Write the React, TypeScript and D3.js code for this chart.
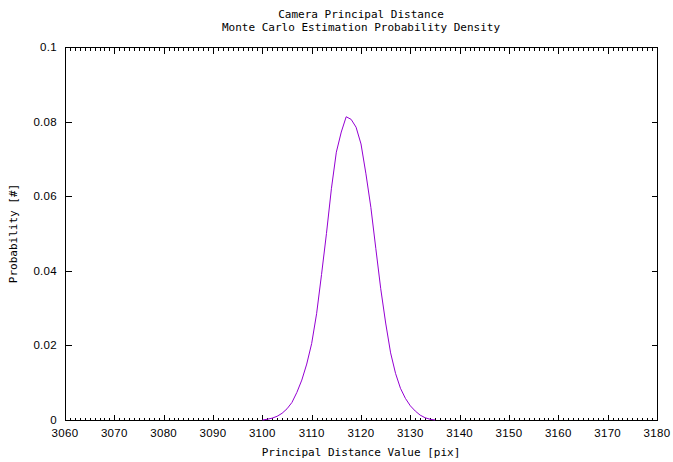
import * as d3 from 'd3'
import { useEffect } from 'react'

const W = 673, H = 462
const margin = { left: 65, right: 16, top: 47, bottom: 42 }

const titleLines = ['Camera Principal Distance', 'Monte Carlo Estimation Probability Density']
const xLabel = 'Principal Distance Value [pix]'
const yLabel = 'Probability [#]'

const xTicks = [3060, 3070, 3080, 3090, 3100, 3110, 3120, 3130, 3140, 3150, 3160, 3170, 3180]
const yTicks = [0, 0.02, 0.04, 0.06, 0.08, 0.1]

// density, one point per pixel unit
const distance = [
  3100, 3101, 3102, 3103, 3104, 3105, 3106, 3107, 3108, 3109, 3110, 3111,
  3112, 3113, 3114, 3115, 3116, 3117, 3118, 3119, 3120, 3121, 3122, 3123,
  3124, 3125, 3126, 3127, 3128, 3129, 3130, 3131, 3132, 3133, 3134, 3135,
]
const probability = [
  0, 0.0002, 0.0005, 0.001, 0.0018, 0.003, 0.0047, 0.0074, 0.0107, 0.015, 0.0205, 0.0285,
  0.039, 0.05, 0.062, 0.0718, 0.0772, 0.0813, 0.0806, 0.0785, 0.074, 0.066, 0.057, 0.046,
  0.0352, 0.026, 0.018, 0.0125, 0.0085, 0.0058, 0.0038, 0.0024, 0.0013, 0.0006, 0.0002, 0,
]

const mono = '"DejaVu Sans Mono", monospace'
const sans = '"Liberation Sans", Arial, sans-serif'

export default function App() {
  useEffect(() => {
    document.body.style.margin = '0'
  }, [])

  const x = d3.scaleLinear().domain([3060, 3180]).range([margin.left, W - margin.right])
  const y = d3.scaleLinear().domain([0, 0.1]).range([H - margin.bottom, margin.top])
  const [x0, x1] = x.range()
  const [y0, y1] = y.range()

  const minor = d3.range(3060, 3181, 1).filter(v => v % 10 !== 0)
  const line = d3.line<number>()
    .x((_, i) => x(distance[i]))
    .y(d => y(d))
  const px = (v: number) => Math.round(v) + 0.5

  return (
    <svg width={W} height={H} style={{ display: 'block', background: '#fff' }}>
      <g fontFamily={mono} fontSize={11} textAnchor="middle" fill="#000">
        {titleLines.map((t, i) => (
          <text key={t} x={(x0 + x1) / 2} y={18 + i * 12.5}>{t}</text>
        ))}
        <text x={(x0 + x1) / 2} y={456}>{xLabel}</text>
        <text transform={`translate(17,${(y0 + y1) / 2}) rotate(-90)`}>{yLabel}</text>
      </g>

      <g stroke="#000" strokeWidth={1} shapeRendering="crispEdges">
        {minor.map(v => (
          <g key={v}>
            <line x1={px(x(v))} x2={px(x(v))} y1={px(y0)} y2={px(y0) - 3} />
            <line x1={px(x(v))} x2={px(x(v))} y1={px(y1)} y2={px(y1) + 3} />
          </g>
        ))}
        {xTicks.map(v => (
          <g key={v}>
            <line x1={px(x(v))} x2={px(x(v))} y1={px(y0)} y2={px(y0) - 6} />
            <line x1={px(x(v))} x2={px(x(v))} y1={px(y1)} y2={px(y1) + 6} />
          </g>
        ))}
        {yTicks.map(v => (
          <g key={v}>
            <line x1={px(x0)} x2={px(x0) + 6} y1={px(y(v))} y2={px(y(v))} />
            <line x1={px(x1)} x2={px(x1) - 6} y1={px(y(v))} y2={px(y(v))} />
          </g>
        ))}
        <rect x={px(x0)} y={px(y1)} width={Math.round(x1) - Math.round(x0)} height={Math.round(y0) - Math.round(y1)} fill="none" />
      </g>

      <g fontFamily={sans} fontSize={11.5} fill="#000" letterSpacing={0.3}>
        {xTicks.map(v => (
          <text key={v} x={x(v)} y={437} textAnchor="middle">{v}</text>
        ))}
        {yTicks.map(v => (
          <text key={v} x={57} y={y(v)} dy="0.35em" textAnchor="end">{d3.format('~g')(v)}</text>
        ))}
      </g>

      <path d={line(probability) ?? ''} fill="none" stroke="#9400d3" strokeWidth={1} />
    </svg>
  )
}
